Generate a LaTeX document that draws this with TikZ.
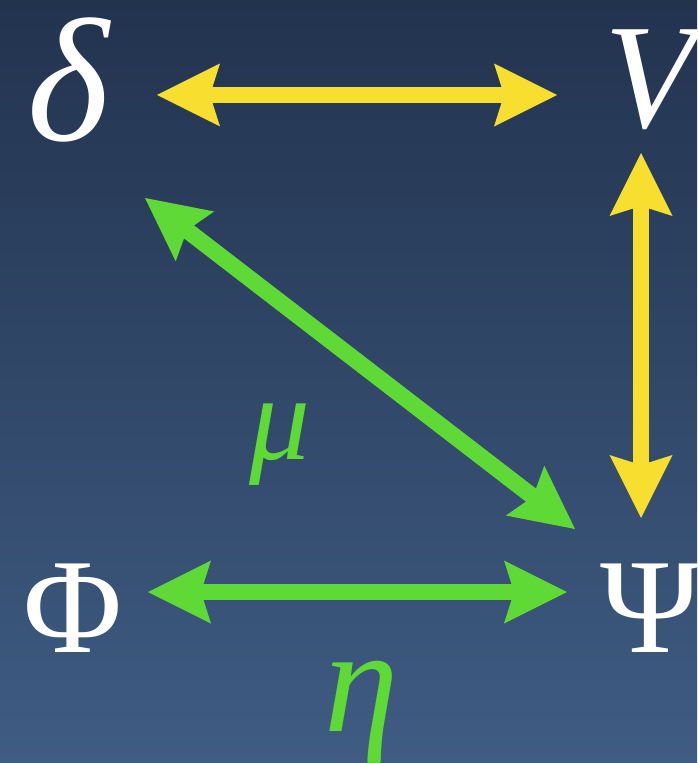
\documentclass[tikz,border=0pt]{standalone}
\usepackage{fontspec}
\setmainfont{Liberation Serif}
\usetikzlibrary{arrows.meta,calc}
\definecolor{bgtop}{HTML}{22334E}
\definecolor{bgbot}{HTML}{3F5C83}
\definecolor{yellowarrow}{HTML}{F8DF2F}
\definecolor{greenarrow}{HTML}{5FD936}
\newcommand{\hugesym}{\fontsize{100}{105}\selectfont}
\newcommand{\bigsym}{\fontsize{85}{90}\selectfont}
\newcommand{\midsym}{\fontsize{77}{82}\selectfont}
\newcommand{\labsym}{\fontsize{69}{74}\selectfont}
\tikzset{
 sym/.style={text=white,inner sep=0pt},
 lab/.style={text=greenarrow,inner sep=0pt},
 yarrow/.style={{Stealth[length=12.6mm,width=12.6mm,inset=2mm,line width=0pt]}-{Stealth[length=12.6mm,width=12.6mm,inset=2mm,line width=0pt]},draw=yellowarrow,line width=3.3mm},
 garrow/.style={{Stealth[length=12.6mm,width=12.6mm,inset=2mm,line width=0pt]}-{Stealth[length=12.6mm,width=12.6mm,inset=2mm,line width=0pt]},draw=greenarrow,line width=3.3mm},
}

\begin{document}
\begin{tikzpicture}[x=0.02cm,y=-0.02cm]

\useasboundingbox (0,0) rectangle (697,763);
\shade[top color=bgtop,bottom color=bgbot] (0,0) rectangle (697,763);
% corners of the square
\node[sym,font=\hugesym] (delta) at (68,80) {\itshape δ};
\node[sym,font=\bigsym] (V) at (650,80) {\itshape V};
\node[sym,font=\midsym] (Phi) at (73,608) {Φ};
\node[sym,font=\midsym] (Psi) at (650,608) {Ψ};
% labels
\node[lab,font=\labsym] (mu) at (280,445) {\itshape μ};
\node[lab,font=\bigsym] (eta) at (362,712) {\itshape η};
% arrows
\draw[yarrow] ($(delta)+(89,15)$) -- ($(V)+(-93,15)$);
\draw[yarrow] ($(V)+(-9,73)$) -- ($(Psi)+(-9,-90)$);
\draw[garrow] ($(delta)+(77,118)$) -- ($(Psi)+(-75,-79)$);
\draw[garrow] ($(Phi)+(75,-16)$) -- ($(Psi)+(-83,-16)$);

\end{tikzpicture}
\end{document}
